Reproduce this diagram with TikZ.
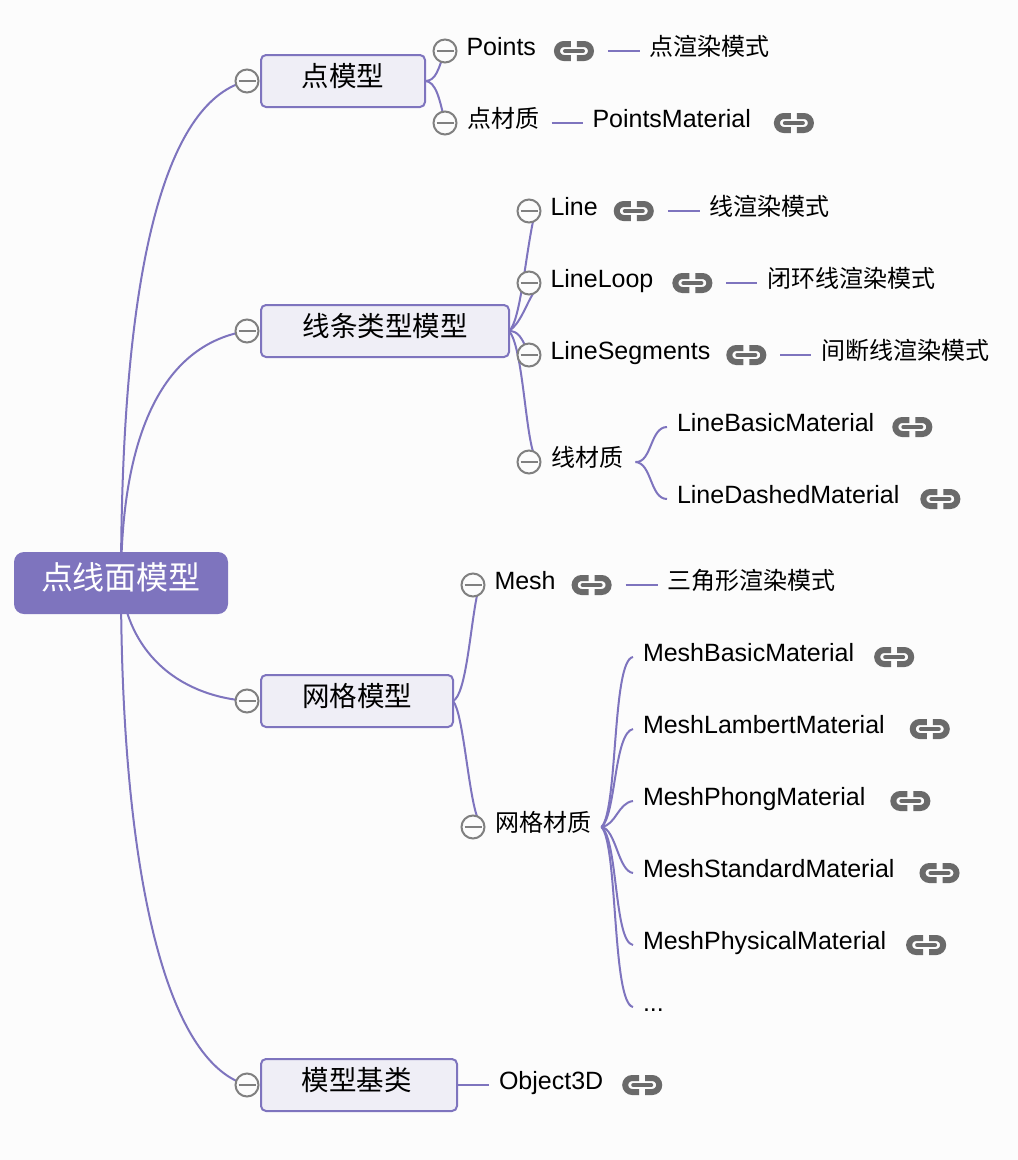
\documentclass[tikz,border=0pt]{standalone}
\usepackage{fontspec}
\setmainfont{Liberation Sans}
\newfontfamily\cjk{Noto Sans CJK SC}
\usetikzlibrary{positioning,backgrounds}
\definecolor{pagebg}{HTML}{FCFCFC}
\definecolor{mapviolet}{HTML}{7E74BE}
\definecolor{boxviolet}{HTML}{EFEEF6}
\definecolor{markgray}{HTML}{808080}
\definecolor{linkgray}{HTML}{6A6A6A}
\tikzset{
  rootbox/.style={fill=mapviolet, text=white, rounded corners=10pt, minimum width=214pt, minimum height=62pt, inner sep=0pt, outer sep=0pt, text height=30pt, text depth=18pt, font=\cjk\fontsize{32}{36}\selectfont},
  midbox/.style={draw=mapviolet, line width=2pt, fill=boxviolet, rounded corners=5pt, minimum height=52pt, inner sep=0pt, outer sep=0pt, text height=26pt, text depth=16pt, font=\cjk\fontsize{27.5}{32}\selectfont},
  leaf/.style={anchor=west, inner sep=0pt, outer sep=0pt, text height=20pt, text depth=12pt, font=\fontsize{25}{30}\selectfont},
  leafcn/.style={leaf, font=\cjk\fontsize{24}{28}\selectfont},
  foldmark/.style={circle, draw=markgray, line width=2pt, fill=pagebg, minimum size=23pt, inner sep=0pt, outer sep=0pt,
    path picture={\draw[markgray, line width=2.5pt] ([xshift=-8.5pt]path picture bounding box.center) -- ([xshift=8.5pt]path picture bounding box.center);}},
  linkicon/.style={minimum width=42pt, minimum height=22pt, inner sep=0pt, outer sep=0pt,
    path picture={\begin{scope}[shift={(path picture bounding box.center)}]
      \draw[linkgray, line width=6pt, rounded corners=7pt] (-3,-7) -- (-17,-7) -- (-17,7) -- (-3,7);
      \draw[linkgray, line width=6pt, rounded corners=7pt] (3,-7) -- (17,-7) -- (17,7) -- (3,7);
      \draw[linkgray, line width=4pt, line cap=round] (-9,0) -- (9,0);
    \end{scope}}},
  branch/.style={draw=mapviolet, line width=2pt},
}

\begin{document}
\begin{tikzpicture}[x=1pt, y=-1pt]
    \useasboundingbox (0,0) rectangle (1018,1160);
    \node[rootbox] (root) at (121,583) {点线面模型};

    % first branch
    \node[foldmark] (pointMark) at (247,81) {};
    \node[midbox, right=2.5pt of pointMark, minimum width=164pt] (pointBox) {点模型};
    \node[foldmark] (pointsMark) at (445,51) {};
    \node[leaf, right=10pt of pointsMark] (points) {Points};
    \node[linkicon, right=17pt of points] (pointsLink) {};
    \node[leafcn, right=55pt of pointsLink] (pointsMode) {点渲染模式};
    \node[foldmark] (pointMatMark) at (445,123) {};
    \node[leafcn, right=11pt of pointMatMark] (pointMat) {点材质};
    \node[leaf, right=53pt of pointMat] (pointsMaterial) {PointsMaterial};
    \node[linkicon, right=22pt of pointsMaterial] (pointsMaterialLink) {};

    % second branch
    \node[foldmark] (lineMark) at (247,331) {};
    \node[midbox, right=2.5pt of lineMark, minimum width=248pt] (lineBox) {线条类型模型};
    \node[foldmark] (lineOneMark) at (529,211) {};
    \node[leaf, right=10pt of lineOneMark] (line) {Line};
    \node[linkicon, right=15pt of line] (lineLink) {};
    \node[leafcn, right=55pt of lineLink] (lineMode) {线渲染模式};
    \node[foldmark] (loopMark) at (529,283) {};
    \node[leaf, right=10pt of loopMark] (lineLoop) {LineLoop};
    \node[linkicon, right=18pt of lineLoop] (loopLink) {};
    \node[leafcn, right=54pt of loopLink] (loopMode) {闭环线渲染模式};
    \node[foldmark] (segMark) at (529,355) {};
    \node[leaf, right=10pt of segMark] (lineSeg) {LineSegments};
    \node[linkicon, right=15pt of lineSeg] (segLink) {};
    \node[leafcn, right=54pt of segLink] (segMode) {间断线渲染模式};
    \node[foldmark] (lineMatMark) at (529,462) {};
    \node[leafcn, right=11pt of lineMatMark] (lineMat) {线材质};
    \coordinate (lineFork) at ([xshift=12pt]lineMat.east);
    \node[leaf] (lineBasic) at (677,427) {LineBasicMaterial};
    \node[linkicon, right=17pt of lineBasic] (lineBasicLink) {};
    \node[leaf] (lineDashed) at (677,499) {LineDashedMaterial};
    \node[linkicon, right=20pt of lineDashed] (lineDashedLink) {};

    % third branch
    \node[foldmark] (meshMark) at (247,701) {};
    \node[midbox, right=2.5pt of meshMark, minimum width=192pt] (meshBox) {网格模型};
    \node[foldmark] (meshOneMark) at (473,585) {};
    \node[leaf, right=10pt of meshOneMark] (mesh) {Mesh};
    \node[linkicon, right=15pt of mesh] (meshLink) {};
    \node[leafcn, right=55pt of meshLink] (meshMode) {三角形渲染模式};
    \node[foldmark] (meshMatMark) at (473,827) {};
    \node[leafcn, right=11pt of meshMatMark] (meshMat) {网格材质};
    \coordinate (meshFork) at ([xshift=10pt]meshMat.east);
    \node[leaf] (meshBasic) at (643,657) {MeshBasicMaterial};
    \node[linkicon, right=19pt of meshBasic] (meshBasicLink) {};
    \node[leaf] (meshLambert) at (643,729) {MeshLambertMaterial};
    \node[linkicon, right=24pt of meshLambert] (meshLambertLink) {};
    \node[leaf] (meshPhong) at (643,801) {MeshPhongMaterial};
    \node[linkicon, right=24pt of meshPhong] (meshPhongLink) {};
    \node[leaf] (meshStandard) at (643,873) {MeshStandardMaterial};
    \node[linkicon, right=24pt of meshStandard] (meshStandardLink) {};
    \node[leaf] (meshPhysical) at (643,945) {MeshPhysicalMaterial};
    \node[linkicon, right=19pt of meshPhysical] (meshPhysicalLink) {};
    \node[leaf] (meshMore) at (643,1007) {...};

    % fourth branch
    \node[foldmark] (baseMark) at (247,1085) {};
    \node[midbox, right=2.5pt of baseMark, minimum width=196pt] (baseBox) {模型基类\kern5pt};
    \node[leaf, right=42pt of baseBox] (object3d) {Object3D};
    \node[linkicon, right=18pt of object3d] (objectLink) {};

    \begin{scope}[on background layer]
    \fill[pagebg] (0,0) rectangle (1018,1160);
    \draw[branch] (root.center) .. controls (121,250) and (170,100) .. (pointMark.center);
    \draw[branch] (root.center) .. controls (121,440) and (160,345) .. (lineMark.center);
    \draw[branch] (root.center) .. controls (128,650) and (175,695) .. (meshMark.center);
    \draw[branch] (root.center) .. controls (121,850) and (160,1060) .. (baseMark.center);

    \draw[branch] (pointBox.east) .. controls (436,81) and (438,70) .. (pointsMark.center);
    \draw[branch] (pointBox.east) .. controls (436,81) and (440,100) .. (pointMatMark.center);
    \draw[branch] ([xshift=13pt]pointsLink.east) -- ([xshift=-10pt]pointsMode.west);
    \draw[branch] ([xshift=12pt]pointMat.east) -- ([xshift=-10pt]pointsMaterial.west);

    \draw[branch] (lineBox.east) .. controls (520,322) and (525,260) .. (lineOneMark.-70);
    \draw[branch] (lineBox.east) .. controls (520,324) and (526,305) .. (loopMark.-70);
    \draw[branch] (lineBox.east) .. controls (518,331) and (522,337) .. (segMark.center);
    \draw[branch] (lineBox.east) .. controls (522,345) and (525,425) .. (lineMatMark.70);
    \draw[branch] ([xshift=13pt]lineLink.east) -- ([xshift=-10pt]lineMode.west);
    \draw[branch] ([xshift=13pt]loopLink.east) -- ([xshift=-10pt]loopMode.west);
    \draw[branch] ([xshift=13pt]segLink.east) -- ([xshift=-10pt]segMode.west);
    \draw[branch] (lineFork) .. controls (652,463) and (650,427) .. ([xshift=-10pt]lineBasic.west);
    \draw[branch] (lineFork) .. controls (652,463) and (650,499) .. ([xshift=-10pt]lineDashed.west);

    \draw[branch] (meshBox.east) .. controls (466,695) and (470,630) .. (meshOneMark.-70);
    \draw[branch] (meshBox.east) .. controls (463,712) and (468,790) .. (meshMatMark.70);
    \draw[branch] ([xshift=13pt]meshLink.east) -- ([xshift=-10pt]meshMode.west);
    \draw[branch] (meshFork) .. controls (618,810) and (612,660) .. ([xshift=-10pt]meshBasic.west);
    \draw[branch] (meshFork) .. controls (616,815) and (614,733) .. ([xshift=-10pt]meshLambert.west);
    \draw[branch] (meshFork) .. controls (616,825) and (618,803) .. ([xshift=-10pt]meshPhong.west);
    \draw[branch] (meshFork) .. controls (616,829) and (618,871) .. ([xshift=-10pt]meshStandard.west);
    \draw[branch] (meshFork) .. controls (618,840) and (614,942) .. ([xshift=-10pt]meshPhysical.west);
    \draw[branch] (meshFork) .. controls (618,845) and (612,1003) .. ([xshift=-10pt]meshMore.west);

    \draw[branch] (baseBox.east) -- ([xshift=-10pt]object3d.west);
    \end{scope}
\end{tikzpicture}
\end{document}
